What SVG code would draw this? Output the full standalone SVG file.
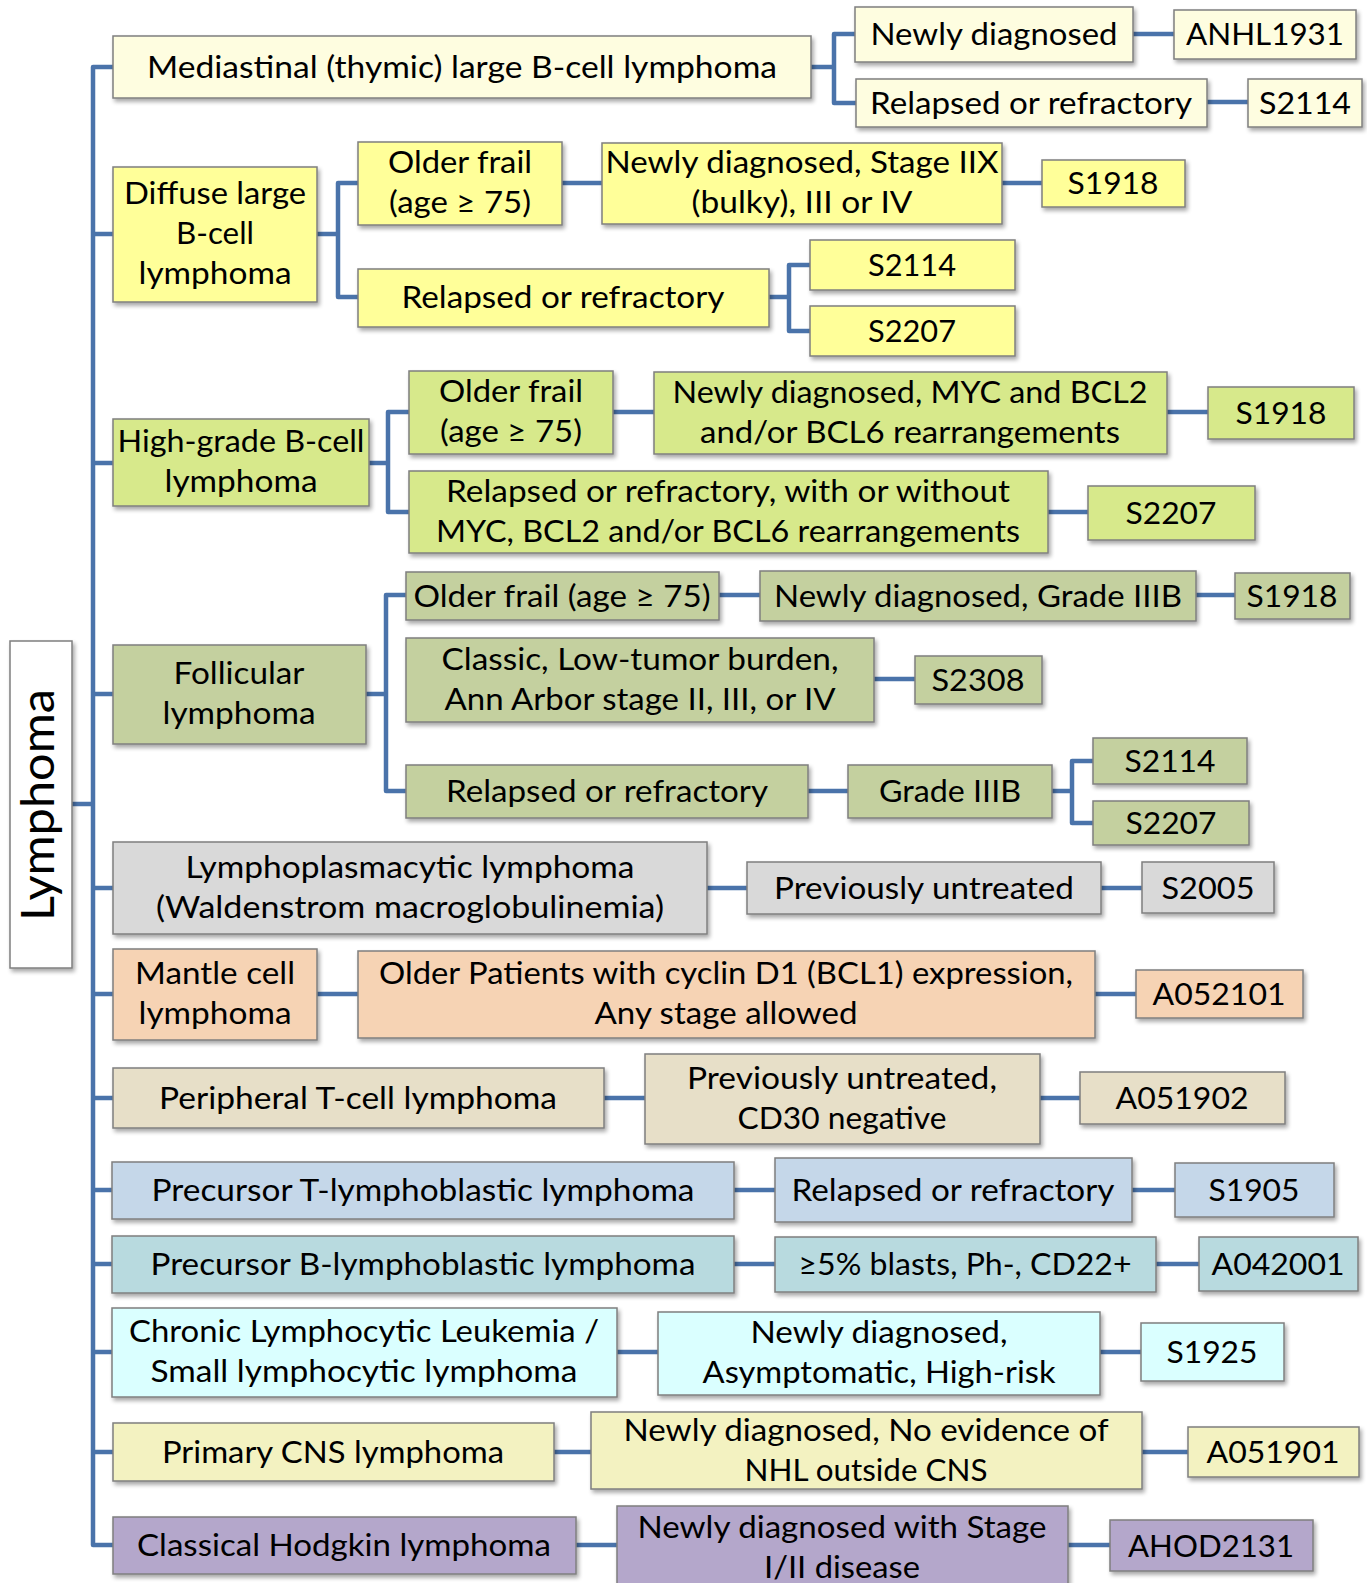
<svg xmlns="http://www.w3.org/2000/svg" width="1367" height="1583" viewBox="0 0 1367 1583">
<style>
.t{font-family:Lato,"Open Sans",sans-serif;font-size:31px;text-anchor:middle;fill:#000}
.b{stroke:#7f7f7f;stroke-width:1.5;filter:url(#sh)}
.w{fill:#ffffff}.ca{fill:#fefde0}.cb{fill:#ffff99}.cc{fill:#d7e98b}.cd{fill:#c4d09f}.ce{fill:#d9d9d9}.cf{fill:#f6d3b4}.cg{fill:#e7dfc8}.ch{fill:#c5d7e9}.ci{fill:#b8dadf}.cj{fill:#daffff}.ck{fill:#f3f2c1}.cl{fill:#b4a7cb}
.c{fill:none;stroke:#4a73aa;stroke-width:4.5;stroke-linejoin:round}
</style>
<defs>
<filter id="sh" x="-10%" y="-20%" width="130%" height="150%">
<feGaussianBlur in="SourceAlpha" stdDeviation="2"/>
<feOffset dx="2" dy="3" result="o"/>
<feComponentTransfer><feFuncA type="linear" slope="0.35"/></feComponentTransfer>
<feMerge><feMergeNode/><feMergeNode in="SourceGraphic"/></feMerge>
</filter>
</defs>
<g id="connectors">
<path class="c" d="M72,804 H93"/>
<path class="c" d="M113,67 H93 V1545 H113"/>
<path class="c" d="M93,234 H113 M93,463 H113 M93,694 H113 M93,888 H113 M93,994 H113 M93,1098 H113 M93,1190 H113 M93,1264 H113 M93,1352 H113 M93,1452 H113"/>
<path class="c" d="M811,67 H834 M855,34 H834 V103 H856 M1133,34 H1174 M1207,102 H1248"/>
<path class="c" d="M317,234 H338 M358,183 H338 V297 H358 M562,183 H602 M1002,183 H1042 M769,297 H789 M810,265 H789 V331 H810"/>
<path class="c" d="M369,463 H388 M409,412 H388 V512 H409 M613,412 H654 M1167,412 H1208 M1048,512 H1088"/>
<path class="c" d="M366,694 H386 M406,595 H386 V791 H406 M719,595 H760 M1196,595 H1235 M874,679 H915 M808,791 H848 M1052,791 H1072 M1093,761 H1072 V823 H1093"/>
<path class="c" d="M707,888 H747 M1101,888 H1142 M317,994 H358 M1095,994 H1136 M604,1098 H645 M1040,1098 H1080 M734,1190 H775 M1132,1190 H1175 M734,1264 H775 M1156,1264 H1199 M617,1352 H658 M1100,1352 H1141 M554,1452 H591 M1142,1452 H1188 M576,1545 H617 M1068,1545 H1110"/>
</g>
<g id="root"><rect class="b w" x="10" y="641" width="62" height="327"/><text class="t" transform="translate(54,805) rotate(-90)" style="font-size:47px" textLength="232" lengthAdjust="spacingAndGlyphs">Lymphoma</text></g>

<g id="a1"><rect class="b ca" x="113" y="36" width="698" height="62"/><text class="t" x="462" y="78" textLength="630" lengthAdjust="spacingAndGlyphs">Mediastinal (thymic) large B-cell lymphoma</text></g>
<g id="a2"><rect class="b ca" x="855" y="7" width="278" height="55"/><text class="t" x="994" y="45" textLength="247" lengthAdjust="spacingAndGlyphs">Newly diagnosed</text></g>
<g id="a3"><rect class="b ca" x="1174" y="10" width="182" height="49"/><text class="t" x="1265" y="45" textLength="158" lengthAdjust="spacingAndGlyphs">ANHL1931</text></g>
<g id="a4"><rect class="b ca" x="856" y="79" width="351" height="48"/><text class="t" x="1031" y="114" textLength="322" lengthAdjust="spacingAndGlyphs">Relapsed or refractory</text></g>
<g id="a5"><rect class="b ca" x="1248" y="79" width="114" height="48"/><text class="t" x="1305" y="114" textLength="92" lengthAdjust="spacingAndGlyphs">S2114</text></g>

<g id="b1"><rect class="b cb" x="113" y="167" width="204" height="135"/><text class="t" x="215" y="204" textLength="182" lengthAdjust="spacingAndGlyphs">Diffuse large</text><text class="t" x="215" y="244" textLength="78" lengthAdjust="spacingAndGlyphs">B-cell</text><text class="t" x="215" y="284" textLength="153" lengthAdjust="spacingAndGlyphs">lymphoma</text></g>
<g id="b2"><rect class="b cb" x="358" y="142" width="204" height="83"/><text class="t" x="460" y="173" textLength="144" lengthAdjust="spacingAndGlyphs">Older frail</text><text class="t" x="460" y="213" textLength="142" lengthAdjust="spacingAndGlyphs">(age ≥ 75)</text></g>
<g id="b3"><rect class="b cb" x="602" y="143" width="400" height="81"/><text class="t" x="802" y="173" textLength="393" lengthAdjust="spacingAndGlyphs">Newly diagnosed, Stage IIX</text><text class="t" x="802" y="213" textLength="221" lengthAdjust="spacingAndGlyphs">(bulky), III or IV</text></g>
<g id="b4"><rect class="b cb" x="1042" y="160" width="143" height="47"/><text class="t" x="1113" y="194" textLength="91" lengthAdjust="spacingAndGlyphs">S1918</text></g>
<g id="b5"><rect class="b cb" x="358" y="269" width="411" height="58"/><text class="t" x="563" y="308" textLength="323" lengthAdjust="spacingAndGlyphs">Relapsed or refractory</text></g>
<g id="b6"><rect class="b cb" x="810" y="240" width="205" height="50"/><text class="t" x="912" y="276" textLength="88" lengthAdjust="spacingAndGlyphs">S2114</text></g>
<g id="b7"><rect class="b cb" x="810" y="306" width="205" height="50"/><text class="t" x="912" y="342" textLength="88" lengthAdjust="spacingAndGlyphs">S2207</text></g>

<g id="c1"><rect class="b cc" x="113" y="419" width="256" height="87"/><text class="t" x="241" y="452" textLength="247" lengthAdjust="spacingAndGlyphs">High-grade B-cell</text><text class="t" x="241" y="492" textLength="153" lengthAdjust="spacingAndGlyphs">lymphoma</text></g>
<g id="c2"><rect class="b cc" x="409" y="371" width="204" height="83"/><text class="t" x="511" y="402" textLength="144" lengthAdjust="spacingAndGlyphs">Older frail</text><text class="t" x="511" y="442" textLength="142" lengthAdjust="spacingAndGlyphs">(age ≥ 75)</text></g>
<g id="c3"><rect class="b cc" x="654" y="372" width="513" height="82"/><text class="t" x="910" y="403" textLength="475" lengthAdjust="spacingAndGlyphs">Newly diagnosed, MYC and BCL2</text><text class="t" x="910" y="443" textLength="420" lengthAdjust="spacingAndGlyphs">and/or BCL6 rearrangements</text></g>
<g id="c4"><rect class="b cc" x="1208" y="387" width="146" height="52"/><text class="t" x="1281" y="424" textLength="91" lengthAdjust="spacingAndGlyphs">S1918</text></g>
<g id="c5"><rect class="b cc" x="409" y="471" width="639" height="82"/><text class="t" x="728" y="502" textLength="564" lengthAdjust="spacingAndGlyphs">Relapsed or refractory, with or without</text><text class="t" x="728" y="542" textLength="584" lengthAdjust="spacingAndGlyphs">MYC, BCL2 and/or BCL6 rearrangements</text></g>
<g id="c6"><rect class="b cc" x="1088" y="486" width="167" height="54"/><text class="t" x="1171" y="524" textLength="91" lengthAdjust="spacingAndGlyphs">S2207</text></g>

<g id="d1"><rect class="b cd" x="113" y="645" width="253" height="99"/><text class="t" x="239" y="684" textLength="131" lengthAdjust="spacingAndGlyphs">Follicular</text><text class="t" x="239" y="724" textLength="153" lengthAdjust="spacingAndGlyphs">lymphoma</text></g>
<g id="d2"><rect class="b cd" x="406" y="572" width="313" height="48"/><text class="t" x="562" y="607" textLength="297" lengthAdjust="spacingAndGlyphs">Older frail (age ≥ 75)</text></g>
<g id="d3"><rect class="b cd" x="760" y="571" width="436" height="50"/><text class="t" x="978" y="607" textLength="408" lengthAdjust="spacingAndGlyphs">Newly diagnosed, Grade IIIB</text></g>
<g id="d4"><rect class="b cd" x="1235" y="573" width="115" height="46"/><text class="t" x="1292" y="607" textLength="91" lengthAdjust="spacingAndGlyphs">S1918</text></g>
<g id="d5"><rect class="b cd" x="406" y="638" width="468" height="84"/><text class="t" x="640" y="670" textLength="397" lengthAdjust="spacingAndGlyphs">Classic, Low-tumor burden,</text><text class="t" x="640" y="710" textLength="391" lengthAdjust="spacingAndGlyphs">Ann Arbor stage II, III, or IV</text></g>
<g id="d6"><rect class="b cd" x="915" y="656" width="127" height="48"/><text class="t" x="978" y="691" textLength="93" lengthAdjust="spacingAndGlyphs">S2308</text></g>
<g id="d7"><rect class="b cd" x="406" y="765" width="402" height="53"/><text class="t" x="607" y="802" textLength="322" lengthAdjust="spacingAndGlyphs">Relapsed or refractory</text></g>
<g id="d8"><rect class="b cd" x="848" y="765" width="204" height="53"/><text class="t" x="950" y="802" textLength="142" lengthAdjust="spacingAndGlyphs">Grade IIIB</text></g>
<g id="d9"><rect class="b cd" x="1093" y="738" width="154" height="46"/><text class="t" x="1170" y="772" textLength="91" lengthAdjust="spacingAndGlyphs">S2114</text></g>
<g id="d10"><rect class="b cd" x="1093" y="801" width="156" height="44"/><text class="t" x="1171" y="834" textLength="91" lengthAdjust="spacingAndGlyphs">S2207</text></g>

<g id="e1"><rect class="b ce" x="113" y="842" width="594" height="92"/><text class="t" x="410" y="878" textLength="449" lengthAdjust="spacingAndGlyphs">Lymphoplasmacytic lymphoma</text><text class="t" x="410" y="918" textLength="508" lengthAdjust="spacingAndGlyphs">(Waldenstrom macroglobulinemia)</text></g>
<g id="e2"><rect class="b ce" x="747" y="862" width="354" height="52"/><text class="t" x="924" y="899" textLength="300" lengthAdjust="spacingAndGlyphs">Previously untreated</text></g>
<g id="e3"><rect class="b ce" x="1142" y="862" width="132" height="51"/><text class="t" x="1208" y="899" textLength="93" lengthAdjust="spacingAndGlyphs">S2005</text></g>

<g id="f1"><rect class="b cf" x="113" y="949" width="204" height="91"/><text class="t" x="215" y="984" textLength="160" lengthAdjust="spacingAndGlyphs">Mantle cell</text><text class="t" x="215" y="1024" textLength="153" lengthAdjust="spacingAndGlyphs">lymphoma</text></g>
<g id="f2"><rect class="b cf" x="358" y="951" width="737" height="87"/><text class="t" x="726" y="984" textLength="694" lengthAdjust="spacingAndGlyphs">Older Patients with cyclin D1 (BCL1) expression,</text><text class="t" x="726" y="1024" textLength="263" lengthAdjust="spacingAndGlyphs">Any stage allowed</text></g>
<g id="f3"><rect class="b cf" x="1136" y="970" width="167" height="48"/><text class="t" x="1219" y="1005" textLength="133" lengthAdjust="spacingAndGlyphs">A052101</text></g>

<g id="g1"><rect class="b cg" x="113" y="1068" width="491" height="60"/><text class="t" x="358" y="1109" textLength="398" lengthAdjust="spacingAndGlyphs">Peripheral T-cell lymphoma</text></g>
<g id="g2"><rect class="b cg" x="645" y="1054" width="395" height="90"/><text class="t" x="842" y="1089" textLength="310" lengthAdjust="spacingAndGlyphs">Previously untreated,</text><text class="t" x="842" y="1129" textLength="209" lengthAdjust="spacingAndGlyphs">CD30 negative</text></g>
<g id="g3"><rect class="b cg" x="1080" y="1072" width="205" height="52"/><text class="t" x="1182" y="1109" textLength="133" lengthAdjust="spacingAndGlyphs">A051902</text></g>

<g id="h1"><rect class="b ch" x="112" y="1162" width="622" height="57"/><text class="t" x="423" y="1201" textLength="543" lengthAdjust="spacingAndGlyphs">Precursor T-lymphoblastic lymphoma</text></g>
<g id="h2"><rect class="b ch" x="775" y="1158" width="357" height="64"/><text class="t" x="953" y="1201" textLength="323" lengthAdjust="spacingAndGlyphs">Relapsed or refractory</text></g>
<g id="h3"><rect class="b ch" x="1175" y="1163" width="159" height="54"/><text class="t" x="1254" y="1201" textLength="91" lengthAdjust="spacingAndGlyphs">S1905</text></g>

<g id="i1"><rect class="b ci" x="112" y="1236" width="622" height="57"/><text class="t" x="423" y="1275" textLength="545" lengthAdjust="spacingAndGlyphs">Precursor B-lymphoblastic lymphoma</text></g>
<g id="i2"><rect class="b ci" x="775" y="1237" width="381" height="55"/><text class="t" x="965" y="1275" textLength="333" lengthAdjust="spacingAndGlyphs">≥5% blasts, Ph-, CD22+</text></g>
<g id="i3"><rect class="b ci" x="1199" y="1237" width="159" height="54"/><text class="t" x="1278" y="1275" textLength="133" lengthAdjust="spacingAndGlyphs">A042001</text></g>

<g id="j1"><rect class="b cj" x="112" y="1308" width="505" height="89"/><text class="t" x="364" y="1342" textLength="470" lengthAdjust="spacingAndGlyphs">Chronic Lymphocytic Leukemia /</text><text class="t" x="364" y="1382" textLength="427" lengthAdjust="spacingAndGlyphs">Small lymphocytic lymphoma</text></g>
<g id="j2"><rect class="b cj" x="658" y="1312" width="442" height="83"/><text class="t" x="879" y="1343" textLength="257" lengthAdjust="spacingAndGlyphs">Newly diagnosed,</text><text class="t" x="879" y="1383" textLength="353" lengthAdjust="spacingAndGlyphs">Asymptomatic, High-risk</text></g>
<g id="j3"><rect class="b cj" x="1141" y="1323" width="143" height="58"/><text class="t" x="1212" y="1363" textLength="91" lengthAdjust="spacingAndGlyphs">S1925</text></g>

<g id="k1"><rect class="b ck" x="113" y="1423" width="441" height="58"/><text class="t" x="333" y="1463" textLength="342" lengthAdjust="spacingAndGlyphs">Primary CNS lymphoma</text></g>
<g id="k2"><rect class="b ck" x="591" y="1412" width="551" height="77"/><text class="t" x="866" y="1441" textLength="485" lengthAdjust="spacingAndGlyphs">Newly diagnosed, No evidence of</text><text class="t" x="866" y="1481" textLength="243" lengthAdjust="spacingAndGlyphs">NHL outside CNS</text></g>
<g id="k3"><rect class="b ck" x="1188" y="1427" width="171" height="50"/><text class="t" x="1273" y="1463" textLength="133" lengthAdjust="spacingAndGlyphs">A051901</text></g>

<g id="l1"><rect class="b cl" x="113" y="1517" width="463" height="57"/><text class="t" x="344" y="1556" textLength="414" lengthAdjust="spacingAndGlyphs">Classical Hodgkin lymphoma</text></g>
<g id="l2"><rect class="b cl" x="617" y="1506" width="451" height="95"/><text class="t" x="842" y="1538" textLength="409" lengthAdjust="spacingAndGlyphs">Newly diagnosed with Stage</text><text class="t" x="842" y="1578" textLength="156" lengthAdjust="spacingAndGlyphs">I/II disease</text></g>
<g id="l3"><rect class="b cl" x="1110" y="1520" width="203" height="51"/><text class="t" x="1211" y="1557" textLength="166" lengthAdjust="spacingAndGlyphs">AHOD2131</text></g>
</svg>
